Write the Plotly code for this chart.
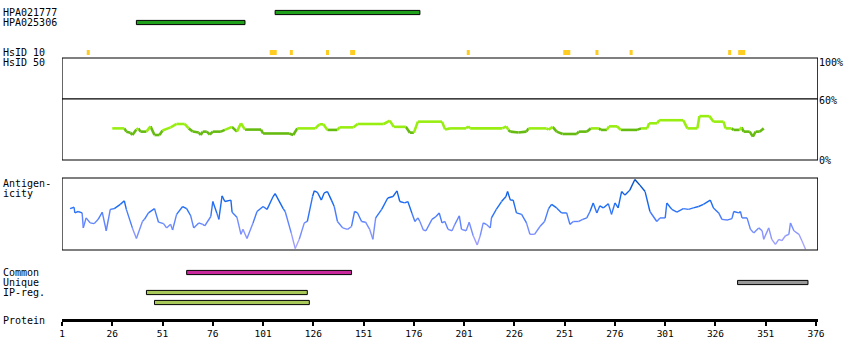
import plotly.graph_objects as go

# ---------------- data ----------------
ab_names = ["HPA021777", "HPA025306"]
ab_start = [107, 38]
ab_end = [179, 92]

hsid10_start = [14, 105, 115, 133, 145, 203, 251, 267, 284, 333, 338]
hsid10_end = [14, 107, 115, 133, 146, 203, 253, 267, 284, 333, 340]

common_start = [63]
common_end = [145]
unique_start = [337]
unique_end = [372]
iprg_start = [43, 47]
iprg_end = [123, 124]

sim_res = [26, 32, 33, 35, 36, 38, 39, 40, 43, 45, 47, 49.5, 51, 55, 58, 62, 64, 66, 69, 70, 71, 73,
           74.5, 76, 80, 82, 85.5, 88, 90, 92, 100, 101, 114, 116, 118, 127, 129, 131, 133, 138,
           139, 146, 148, 161, 164, 166, 172, 174, 176, 178, 190, 191.5, 194, 202, 203, 204, 220,
           222, 223, 224, 228, 232, 233, 242, 243, 245, 247, 250, 257, 258, 262, 264, 268, 269,
           272, 273, 277, 279, 287, 289, 292, 293, 297, 298, 310, 312, 317, 318, 323, 325, 330,
           331, 334, 335, 338, 339, 340, 343, 344.6, 346, 348, 350]
sim_pct = [31, 31, 27.8, 26.8, 24.5, 30, 31, 27.8, 27.8, 33, 24.5, 24.5, 29, 32, 35.3, 35.3, 31, 28,
           27, 24.5, 27.8, 27.8, 25, 27.8, 27.8, 29.5, 32.5, 27.8, 36, 29.8, 29.8, 26, 26, 24.5, 31,
           31, 35, 35, 29.5, 29.5, 32, 32, 35.3, 35.3, 38.6, 32.5, 32.5, 26.8, 26.8, 37.6, 37.6, 30,
           31, 31, 33, 31, 31, 33, 29.5, 27.8, 27, 27.8, 31, 31, 29.8, 32.5, 27.8, 25.5, 25.5, 27.8,
           27.8, 31, 31, 29.5, 29.5, 33, 33, 29.5, 29.5, 31, 31, 36, 36, 39, 39, 31, 31, 43, 43,
           37.6, 37.6, 31, 31, 29.5, 29.5, 32, 27.8, 27.8, 22.9, 27.8, 27.8, 31]

ant_res = [5, 7, 7.4, 9, 11, 11.6, 13, 15, 17, 19, 21, 23, 25, 27, 30, 32, 33, 36, 38, 41, 42, 44,
           47, 49, 51.5, 53, 55, 56, 58, 61, 63, 65, 66.5, 69, 71, 72, 75, 76, 78, 79, 80.6, 82, 85,
           85.6, 88, 90, 91, 93, 96, 98, 101, 103, 106, 107, 111, 112, 115, 117, 119, 121.5, 123,
           125.6, 126.5, 128, 130, 131.4, 133, 135, 136.4, 138, 140.6, 143, 145, 146.5, 148, 150,
           152, 154, 155.6, 157, 160, 163, 165.6, 167.6, 169, 171.4, 173, 175, 176.5, 178, 179,
           180.7, 182, 185, 187, 188.6, 190, 191.4, 193, 195, 196.4, 198.6, 199.7, 202, 203.5,
           205.5, 207.5, 209, 210.5, 212, 214, 214.6, 217, 219.6, 221.8, 222.6, 224, 225.4, 227,
           229.6, 232, 233.7, 236, 238.7, 241, 243, 244.5, 247, 249.5, 252, 253.6, 255.3, 258, 260,
           262, 263.6, 265.2, 267, 268.5, 270.2, 272.7, 274.3, 276, 277.6, 279.3, 281, 283.4, 285.9,
           288.4, 291, 293.4, 296.8, 298.4, 301, 301.8, 304.3, 306.8, 310, 312.6, 315, 317.6, 320,
           323.4, 325, 327.6, 329.2, 331.7, 334.2, 335.1, 337.6, 338.4, 339.2, 341.7, 343.4, 345,
           347.5, 349.2, 350, 352.5, 354, 355.8, 357.5, 359, 360.8, 362.5, 363.3, 365, 367.5, 369,
           370.8]
ant_val = [57, 59, 51, 53, 51, 30, 44, 37, 36, 42, 52, 26, 56, 57, 63, 68, 56, 30, 15, 39, 42, 51,
           57, 38, 36, 30, 35, 27, 49, 60, 57, 47, 30, 37, 35, 33, 46, 67, 51, 42, 75, 67, 69, 52,
           45, 21, 28, 15, 37, 53, 60, 56, 74, 78, 57, 53, 23, 1, 14, 37, 39, 74, 82, 80, 69, 79,
           81, 69, 60, 39, 30, 28, 32, 53, 51, 39, 38, 28, 14, 44, 56, 72, 74, 82, 67, 65, 67, 51,
           39, 44, 39, 27, 26, 42, 46, 51, 37, 39, 28, 26, 35, 47, 28, 26, 38, 19, 6, 19, 37, 35,
           30, 44, 56, 67, 74, 81, 69, 69, 51, 49, 37, 21, 21, 32, 39, 57, 63, 58, 51, 51, 35, 39,
           39, 42, 44, 53, 65, 51, 61, 58, 64, 49, 65, 58, 81, 76, 83, 98, 90, 81, 53, 39, 44, 44,
           65, 56, 52, 57, 56, 58, 60, 63, 69, 58, 51, 42, 41, 43, 53, 51, 53, 44, 44, 28, 23, 30,
           26, 14, 30, 14, 7, 14, 12, 19, 21, 37, 26, 21, 12, 0]

tick_vals = [1, 26, 51, 76, 101, 126, 151, 176, 201, 226, 251, 276, 301, 326, 351, 376]

# ---------------- figure ----------------
FONT = "DejaVu Sans Mono"
fig = go.Figure()


def hbar(starts, ends, row, color, line=True, width=0.42, pad=0.0):
    fig.add_trace(go.Bar(
        orientation="h",
        base=[s - pad for s in starts],
        x=[e - s + 2 * pad for s, e in zip(starts, ends)],
        y=[row] * len(starts) if not isinstance(row, list) else row,
        width=width,
        marker=dict(color=color, line=dict(color="black", width=1 if line else 0)),
        xaxis="x", yaxis="y", showlegend=False, hoverinfo="skip"))


# antibody bars
hbar(ab_start, ab_end, [1, 2], "#1fa01a")
# HsID 10 marks
fig.add_trace(go.Bar(
    orientation="h", base=[s - 0.7 for s in hsid10_start],
    x=[e - s + 1.5 for s, e in zip(hsid10_start, hsid10_end)],
    y=[5] * len(hsid10_start), width=0.5,
    marker=dict(color="#ffcc22", line=dict(width=0)),
    xaxis="x", yaxis="y", showlegend=False, hoverinfo="skip"))
# common / unique / ip-reg
hbar(common_start, common_end, 27, "#c8289c")
hbar(unique_start, unique_end, 28, "#999999")
hbar(iprg_start, iprg_end, [29, 30], "#a8c85a")

# similarity line split by colour
light_x, light_y, dark_x, dark_y = [], [], [], []
for i in range(len(sim_res) - 1):
    m = (sim_pct[i] + sim_pct[i + 1]) / 2
    tx, ty = (light_x, light_y) if m >= 30.4 else (dark_x, dark_y)
    tx += [sim_res[i], sim_res[i + 1], None]
    ty += [sim_pct[i], sim_pct[i + 1], None]
fig.add_trace(go.Scatter(x=dark_x, y=dark_y, mode="lines", line=dict(color="#66bb11", width=2.6),
                         xaxis="x", yaxis="y2", showlegend=False, hoverinfo="skip"))
fig.add_trace(go.Scatter(x=light_x, y=light_y, mode="lines", line=dict(color="#99ee11", width=2.6),
                         xaxis="x", yaxis="y2", showlegend=False, hoverinfo="skip"))

# antigenicity line, coloured by value
anchors = [(0, (176, 168, 255)), (20, (140, 150, 255)), (40, (90, 130, 255)),
           (60, (30, 110, 245)), (80, (15, 95, 230)), (100, (0, 70, 170))]


def col(v):
    for (v0, c0), (v1, c1) in zip(anchors[:-1], anchors[1:]):
        if v <= v1:
            t = (v - v0) / (v1 - v0)
            return "rgb(%d,%d,%d)" % tuple(round(a + (b - a) * t) for a, b in zip(c0, c1))
    return "rgb(%d,%d,%d)" % anchors[-1][1]


NB = 12
bins = [([], []) for _ in range(NB)]
for i in range(len(ant_res) - 1):
    m = (ant_val[i] + ant_val[i + 1]) / 2
    b = min(NB - 1, int(m / 100 * NB))
    bins[b][0].extend([ant_res[i], ant_res[i + 1], None])
    bins[b][1].extend([ant_val[i], ant_val[i + 1], None])
for b, (bx, by) in enumerate(bins):
    if bx:
        fig.add_trace(go.Scatter(x=bx, y=by, mode="lines",
                                 line=dict(color=col((b + 0.5) * 100 / NB), width=1.4),
                                 xaxis="x", yaxis="y3", showlegend=False, hoverinfo="skip"))

# panel frames
shapes = []
for ax in ["y2", "y3"]:
    shapes.append(dict(type="rect", xref="x", yref=ax + " domain", x0=1, x1=376.9, y0=0, y1=1,
                       line=dict(color="black", width=1.2), fillcolor="rgba(0,0,0,0)"))
shapes.append(dict(type="line", xref="x", yref="y2", x0=1, x1=376.9, y0=60, y1=60,
                   line=dict(color="black", width=1.2)))

annotations = []
left_labels = [("HPA021777", 1), ("HPA025306", 2), ("HsID 10", 5), ("HsID 50", 6),
               ("Antigen-", 18.05), ("icity", 19.05), ("Common", 27), ("Unique", 28),
               ("IP-reg.", 29), ("Protein", 31.75)]
for t, k in left_labels:
    annotations.append(dict(text=t, x=3 / 850, xref="paper", y=k, yref="y", xanchor="left",
                            yanchor="middle", showarrow=False, borderpad=0, borderwidth=0,
                            font=dict(family=FONT, size=10, color="black")))
for t, k in [("100%", 6.02), ("60%", 9.82), ("0%", 15.75)]:
    annotations.append(dict(text=t, x=819 / 850, xref="paper", y=k, yref="y", xanchor="left",
                            yanchor="middle", showarrow=False, borderpad=0, borderwidth=0,
                            font=dict(family=FONT, size=10, color="black")))

fig.update_layout(
    width=850, height=360, autosize=False, margin=dict(l=0, r=0, t=0, b=0, pad=0),
    paper_bgcolor="white", plot_bgcolor="rgba(0,0,0,0)",
    barmode="overlay", showlegend=False,
    xaxis=dict(domain=[62 / 850, 818 / 850], range=[1, 376.99], anchor="free", position=40 / 360,
               showline=True, linecolor="black", linewidth=3, ticks="outside", ticklen=4,
               tickwidth=2, tickcolor="black", tickvals=tick_vals,
               ticktext=[str(v) for v in tick_vals], showgrid=False, zeroline=False,
               automargin=False,
               tickfont=dict(family=FONT, size=9.5, color="black")),
    yaxis=dict(domain=[0, 1], range=[35.75, -0.25], visible=False, anchor="free", position=0),
    yaxis2=dict(domain=[200 / 360, 302 / 360], range=[0, 100], visible=False, anchor="free",
                position=0),
    yaxis3=dict(domain=[110 / 360, 182 / 360], range=[-1, 100], visible=False, anchor="free",
                position=0),
    shapes=shapes, annotations=annotations,
)

fig.write_html("out.html",
               config={"displayModeBar": False, "responsive": False, "staticPlot": True},
               post_script="document.body.style.margin='0px';"
                           "document.body.style.overflow='hidden';")
